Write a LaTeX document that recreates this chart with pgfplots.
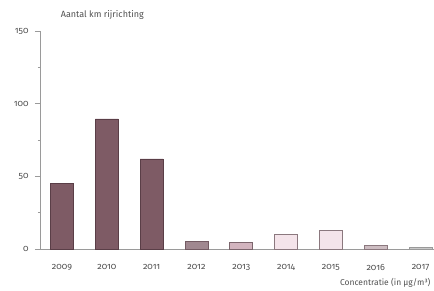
\documentclass[border=0pt]{standalone}
\usepackage{pgfplots}
\pgfplotsset{compat=1.18}
\usepackage{fontspec}
\setmainfont[Numbers=OldStyle]{Fira Sans}
\definecolor{txt}{HTML}{505050}
\definecolor{axc}{HTML}{9A9A9A}
\definecolor{cA}{HTML}{7E5B65}
\definecolor{bA}{HTML}{5A3E47}
\definecolor{cB}{HTML}{A08890}
\definecolor{cC}{HTML}{D2B4BE}
\definecolor{cD}{HTML}{F4E4EA}
\definecolor{cE}{HTML}{CDBDC2}
\definecolor{cF}{HTML}{C8C8C8}
\begin{document}
\begin{tikzpicture}[x=1pt,y=1pt]
\useasboundingbox (0,0) rectangle (434,291);
\begin{axis}[
  at={(40pt,42pt)}, anchor=south west,
  scale only axis, width=394pt, height=218pt,
  xmin=-0.491, xmax=8.30, ymin=0, ymax=150,
  axis lines*=left,
  axis line style={axc, line width=0.6pt},
  ytick={0,50,100,150}, minor ytick={25,75,125},
  tick align=outside, major tick length=5pt, minor tick length=2pt,
  tick style={axc, line width=0.6pt},
  xtick={0,...,8},
  xticklabels={2009,2010,2011,2012,2013,2014,2015,2016,2017},
  xtick style={draw=none},
  xticklabel style={yshift=-7pt},
  yticklabel style={xshift=-3pt},
  /pgf/number format/assume math mode=true,
  ticklabel style={font=\fontsize{9}{10}\selectfont, text=txt},
  clip=false,
  ybar, bar width=23pt, bar shift=0pt,
]
\addplot[fill=cA, draw=bA, line width=0.7pt] coordinates {(0,45) (1,89.5) (2,62)};
\addplot[fill=cB, draw=bA!85, line width=0.7pt] coordinates {(3,5)};
\addplot[fill=cC, draw=bA!80, line width=0.7pt] coordinates {(4,4.8)};
\addplot[fill=cD, draw=bA!70, line width=0.7pt] coordinates {(5,10.3) (6,13)};
\addplot[fill=cE, draw=bA!70, line width=0.7pt] coordinates {(7,2.5)};
\addplot[fill=cF, draw=axc, line width=0.7pt] coordinates {(8,1)};
\node[anchor=west, text=txt, font=\fontsize{9}{10}\selectfont] at (axis description cs:0.044,1.073) {Aantal km rijrichting};
\node[anchor=east, text=txt, font=\fontsize{8.5}{10}\selectfont] at (axis description cs:1.0,-0.156) {Concentratie (in µg/m³)};
\end{axis}
\end{tikzpicture}
\end{document}
